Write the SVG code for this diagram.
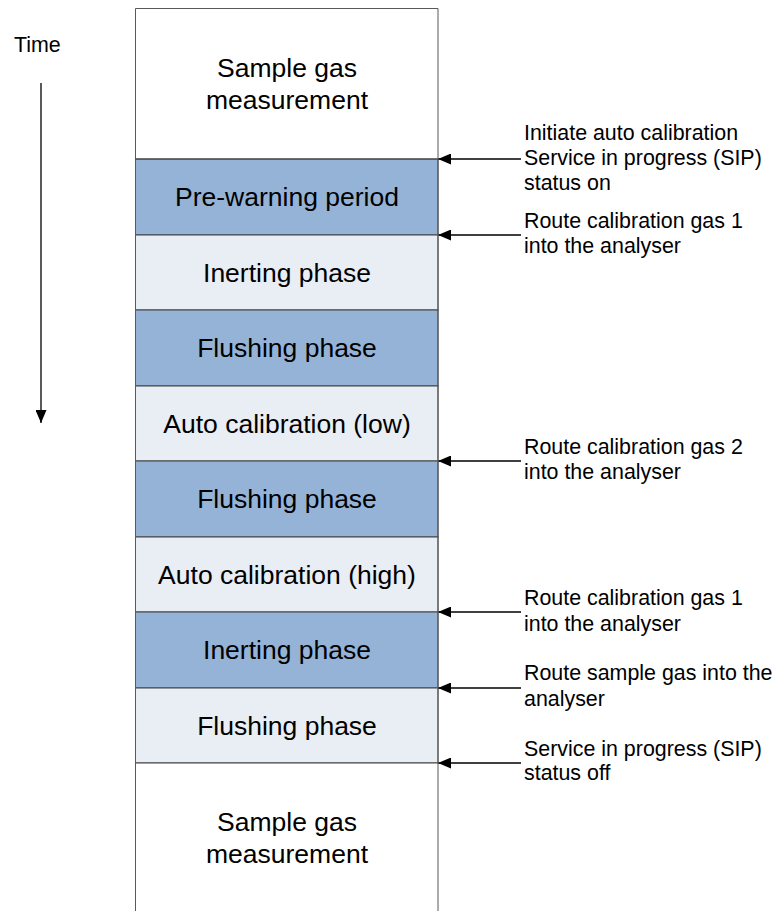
<svg xmlns="http://www.w3.org/2000/svg" width="774" height="911" viewBox="0 0 774 911">
<defs>
<marker id="ah" markerWidth="13" markerHeight="11" refX="13" refY="5.5" orient="auto" markerUnits="userSpaceOnUse">
<path d="M0,0 L13,5.5 L0,11 Z" fill="#000"/>
</marker>
<style>
.dark{fill:#95B3D7;stroke:#404040;stroke-width:1}
.light{fill:#E9EDF4;stroke:#404040;stroke-width:1}
.white{fill:#fff;stroke:none}
.bt{font-family:"Liberation Sans",Arial,sans-serif;font-size:26.5px;fill:#000;text-anchor:middle}
.lt{font-family:"Liberation Sans",Arial,sans-serif;font-size:21.4px;fill:#000}
.conn{stroke:#000;stroke-width:1.3;fill:none}
</style>
</defs>
<rect width="774" height="911" fill="#fff"/>
<text class="lt" x="14" y="52">Time</text>
<g id="connectors">
<line class="conn" x1="41" y1="83" x2="41" y2="423" marker-end="url(#ah)"/>
<line class="conn" x1="521" y1="159" x2="438" y2="159" marker-end="url(#ah)"/>
<line class="conn" x1="521" y1="235" x2="438" y2="235" marker-end="url(#ah)"/>
<line class="conn" x1="521" y1="461" x2="438" y2="461" marker-end="url(#ah)"/>
<line class="conn" x1="521" y1="612" x2="438" y2="612" marker-end="url(#ah)"/>
<line class="conn" x1="521" y1="688" x2="438" y2="688" marker-end="url(#ah)"/>
<line class="conn" x1="521" y1="763" x2="438" y2="763" marker-end="url(#ah)"/>
</g>
<g id="n1"><rect class="white" x="135.5" y="8.5" width="302.5" height="150.5"/><text class="bt" x="287" y="77">Sample gas</text><text class="bt" x="287" y="109">measurement</text></g>
<g id="n2"><rect class="dark" x="135.5" y="159" width="302.5" height="76"/><text class="bt" x="287" y="206">Pre-warning period</text></g>
<g id="n3"><rect class="light" x="135.5" y="235" width="302.5" height="75"/><text class="bt" x="287" y="282">Inerting phase</text></g>
<g id="n4"><rect class="dark" x="135.5" y="310" width="302.5" height="76"/><text class="bt" x="287" y="357">Flushing phase</text></g>
<g id="n5"><rect class="light" x="135.5" y="386" width="302.5" height="75"/><text class="bt" x="287" y="433">Auto calibration (low)</text></g>
<g id="n6"><rect class="dark" x="135.5" y="461" width="302.5" height="76"/><text class="bt" x="287" y="508">Flushing phase</text></g>
<g id="n7"><rect class="light" x="135.5" y="537" width="302.5" height="75"/><text class="bt" x="287" y="584">Auto calibration (high)</text></g>
<g id="n8"><rect class="dark" x="135.5" y="612" width="302.5" height="76"/><text class="bt" x="287" y="659">Inerting phase</text></g>
<g id="n9"><rect class="light" x="135.5" y="688" width="302.5" height="75"/><text class="bt" x="287" y="735">Flushing phase</text></g>
<g id="n10"><rect class="white" x="135.5" y="763" width="302.5" height="148"/><text class="bt" x="287" y="831">Sample gas</text><text class="bt" x="287" y="863">measurement</text></g>
<g id="frame" fill="none" stroke="#595959" stroke-width="1">
<polyline points="135.5,911 135.5,8.5 438,8.5 438,911"/>
<line x1="135.5" y1="159" x2="438" y2="159" stroke="#404040"/>
<line x1="135.5" y1="763" x2="438" y2="763" stroke="#404040"/>
</g>
<g id="labels">
<text class="lt" x="524" y="140">Initiate auto calibration</text>
<text class="lt" x="524" y="165">Service in progress (SIP)</text>
<text class="lt" x="524" y="190">status on</text>
<text class="lt" x="524" y="228">Route calibration gas 1</text>
<text class="lt" x="524" y="253">into the analyser</text>
<text class="lt" x="524" y="454">Route calibration gas 2</text>
<text class="lt" x="524" y="479">into the analyser</text>
<text class="lt" x="524" y="605">Route calibration gas 1</text>
<text class="lt" x="524" y="631">into the analyser</text>
<text class="lt" x="524" y="680">Route sample gas into the</text>
<text class="lt" x="524" y="706">analyser</text>
<text class="lt" x="524" y="756">Service in progress (SIP)</text>
<text class="lt" x="524" y="780">status off</text>
</g>
</svg>
